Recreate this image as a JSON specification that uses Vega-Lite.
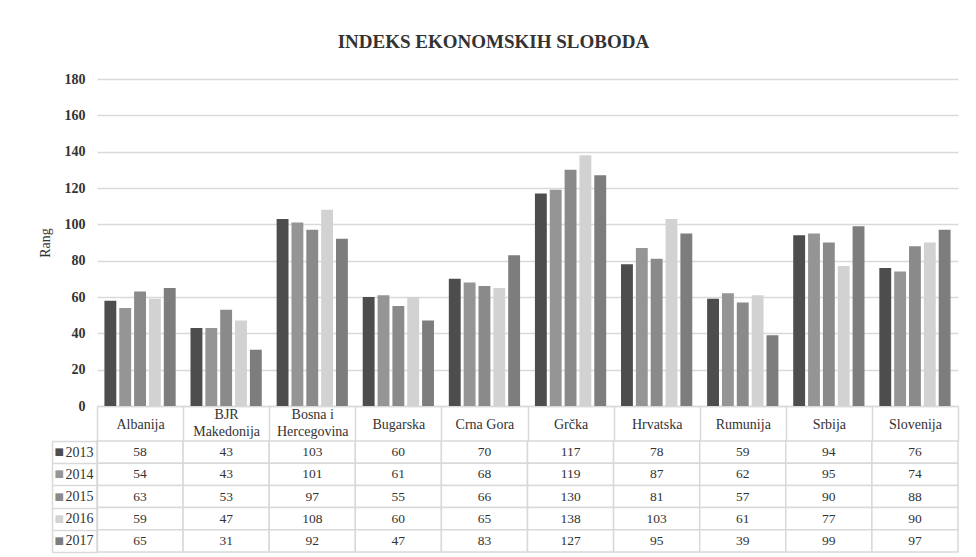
{
  "$schema": "https://vega.github.io/schema/vega-lite/v6.json",
  "background": "white",
  "padding": {"left": 38, "top": 33, "right": 18, "bottom": 5},
  "title": {"text": "INDEKS EKONOMSKIH SLOBODA", "font": "Liberation Serif, DejaVu Serif, serif", "fontSize": 19, "fontWeight": "bold", "color": "#333333", "anchor": "middle", "offset": 20, "dx": -5},
  "config": {"font": "Liberation Serif, DejaVu Serif, serif", "view": {"stroke": null}},
  "data": {"values": [
    {"c": "Albanija", "y": "2013", "v": 58}, {"c": "BJR Makedonija", "y": "2013", "v": 43}, {"c": "Bosna i Hercegovina", "y": "2013", "v": 103}, {"c": "Bugarska", "y": "2013", "v": 60}, {"c": "Crna Gora", "y": "2013", "v": 70}, {"c": "Grčka", "y": "2013", "v": 117}, {"c": "Hrvatska", "y": "2013", "v": 78}, {"c": "Rumunija", "y": "2013", "v": 59}, {"c": "Srbija", "y": "2013", "v": 94}, {"c": "Slovenija", "y": "2013", "v": 76},
    {"c": "Albanija", "y": "2014", "v": 54}, {"c": "BJR Makedonija", "y": "2014", "v": 43}, {"c": "Bosna i Hercegovina", "y": "2014", "v": 101}, {"c": "Bugarska", "y": "2014", "v": 61}, {"c": "Crna Gora", "y": "2014", "v": 68}, {"c": "Grčka", "y": "2014", "v": 119}, {"c": "Hrvatska", "y": "2014", "v": 87}, {"c": "Rumunija", "y": "2014", "v": 62}, {"c": "Srbija", "y": "2014", "v": 95}, {"c": "Slovenija", "y": "2014", "v": 74},
    {"c": "Albanija", "y": "2015", "v": 63}, {"c": "BJR Makedonija", "y": "2015", "v": 53}, {"c": "Bosna i Hercegovina", "y": "2015", "v": 97}, {"c": "Bugarska", "y": "2015", "v": 55}, {"c": "Crna Gora", "y": "2015", "v": 66}, {"c": "Grčka", "y": "2015", "v": 130}, {"c": "Hrvatska", "y": "2015", "v": 81}, {"c": "Rumunija", "y": "2015", "v": 57}, {"c": "Srbija", "y": "2015", "v": 90}, {"c": "Slovenija", "y": "2015", "v": 88},
    {"c": "Albanija", "y": "2016", "v": 59}, {"c": "BJR Makedonija", "y": "2016", "v": 47}, {"c": "Bosna i Hercegovina", "y": "2016", "v": 108}, {"c": "Bugarska", "y": "2016", "v": 60}, {"c": "Crna Gora", "y": "2016", "v": 65}, {"c": "Grčka", "y": "2016", "v": 138}, {"c": "Hrvatska", "y": "2016", "v": 103}, {"c": "Rumunija", "y": "2016", "v": 61}, {"c": "Srbija", "y": "2016", "v": 77}, {"c": "Slovenija", "y": "2016", "v": 90},
    {"c": "Albanija", "y": "2017", "v": 65}, {"c": "BJR Makedonija", "y": "2017", "v": 31}, {"c": "Bosna i Hercegovina", "y": "2017", "v": 92}, {"c": "Bugarska", "y": "2017", "v": 47}, {"c": "Crna Gora", "y": "2017", "v": 83}, {"c": "Grčka", "y": "2017", "v": 127}, {"c": "Hrvatska", "y": "2017", "v": 95}, {"c": "Rumunija", "y": "2017", "v": 39}, {"c": "Srbija", "y": "2017", "v": 99}, {"c": "Slovenija", "y": "2017", "v": 97}
  ]},
  "bounds": "flush",
  "spacing": 35,
  "resolve": {"scale": {"x": "independent", "y": "independent", "color": "independent"}},
  "vconcat": [
    {
      "width": 861,
      "height": 327,
      "mark": {"type": "bar"},
      "encoding": {
        "x": {"field": "c", "type": "nominal",
          "sort": ["Albanija", "BJR Makedonija", "Bosna i Hercegovina", "Bugarska", "Crna Gora", "Grčka", "Hrvatska", "Rumunija", "Srbija", "Slovenija"],
          "scale": {"paddingInner": 0, "paddingOuter": 0},
          "axis": {"title": null, "orient": "bottom", "domain": true, "domainColor": "#d9d9d9", "domainWidth": 1.5, "ticks": true, "tickBand": "extent", "tickSize": 35, "tickColor": "#d9d9d9", "tickWidth": 1.5, "labelAngle": 0, "labelBaseline": "middle",
            "labelPadding": {"condition": {"test": "datum.value == 'BJR Makedonija' || datum.value == 'Bosna i Hercegovina'", "value": -27}, "value": -17},
            "labelFont": "Liberation Serif, DejaVu Serif, serif", "labelFontSize": 14, "labelColor": "#333333", "labelLineHeight": 17, "labelLimit": 0,
            "labelExpr": "datum.value == 'BJR Makedonija' ? ['BJR', 'Makedonija'] : datum.value == 'Bosna i Hercegovina' ? ['Bosna i', 'Hercegovina'] : datum.label"}},
        "xOffset": {"field": "y", "type": "nominal", "scale": {"paddingInner": 0.2, "paddingOuter": 0.5}},
        "y": {"field": "v", "type": "quantitative", "scale": {"domain": [0, 180]},
          "axis": {"title": "Rang", "titleFont": "Liberation Serif, DejaVu Serif, serif", "titleFontSize": 14, "titleFontWeight": "normal", "titleColor": "#333333", "titlePadding": 12,
            "values": [0, 20, 40, 60, 80, 100, 120, 140, 160, 180], "domain": false, "ticks": false, "labelPadding": 12, "labelFont": "Liberation Serif, DejaVu Serif, serif", "labelFontSize": 14, "labelFontWeight": "bold", "labelColor": "#333333",
            "grid": true, "gridColor": "#d9d9d9", "gridWidth": 1.5}},
        "color": {"field": "y", "type": "nominal",
          "scale": {"domain": ["2013", "2014", "2015", "2016", "2017"], "range": ["#4d4d4d", "#959595", "#8a8a8a", "#d2d2d2", "#7d7d7d"]},
          "legend": null}
      }
    },
    {
      "width": 861,
      "height": 111,
      "resolve": {"axis": {"y": "independent"}},
      "layer": [
        {
          "mark": {"type": "rect", "fill": "white", "stroke": "#d9d9d9", "strokeWidth": 1.5},
          "encoding": {
            "x": {"field": "c", "type": "nominal",
              "sort": ["Albanija", "BJR Makedonija", "Bosna i Hercegovina", "Bugarska", "Crna Gora", "Grčka", "Hrvatska", "Rumunija", "Srbija", "Slovenija"],
              "scale": {"paddingInner": 0, "paddingOuter": 0}, "axis": null},
            "y": {"field": "y", "type": "nominal", "sort": ["2013", "2014", "2015", "2016", "2017"],
              "scale": {"paddingInner": 0, "paddingOuter": 0},
              "axis": {"orient": "left", "title": null, "grid": false, "domain": true, "domainColor": "#d9d9d9", "domainWidth": 1.5, "ticks": true, "tickBand": "extent", "tickSize": 45, "tickColor": "#d9d9d9", "tickWidth": 1.5,
                "labelAlign": "right", "labelBaseline": "middle", "labelPadding": -41, "labelFont": "Liberation Serif, DejaVu Serif, serif", "labelFontSize": 14, "labelColor": "#333333"}}
          }
        },
        {
          "mark": {"type": "text", "font": "Liberation Serif, DejaVu Serif, serif", "fontSize": 13.5, "color": "#333333"},
          "encoding": {
            "x": {"field": "c", "type": "nominal",
              "sort": ["Albanija", "BJR Makedonija", "Bosna i Hercegovina", "Bugarska", "Crna Gora", "Grčka", "Hrvatska", "Rumunija", "Srbija", "Slovenija"],
              "axis": null},
            "y": {"field": "y", "type": "nominal", "sort": ["2013", "2014", "2015", "2016", "2017"],
              "axis": {"orient": "left", "offset": 45, "title": null, "grid": false, "domain": true, "domainColor": "#d9d9d9", "domainWidth": 1.5, "ticks": false,
                "labelExpr": "'■'", "labelAlign": "left", "labelBaseline": "middle", "labelPadding": -2, "labelFont": "DejaVu Sans", "labelFontSize": 10,
                "labelColor": {"condition": [
                  {"test": "datum.value == '2013'", "value": "#4d4d4d"},
                  {"test": "datum.value == '2014'", "value": "#959595"},
                  {"test": "datum.value == '2015'", "value": "#8a8a8a"},
                  {"test": "datum.value == '2016'", "value": "#d2d2d2"}
                ], "value": "#7d7d7d"}}},
            "text": {"field": "v", "type": "quantitative"}
          }
        }
      ]
    }
  ]
}
